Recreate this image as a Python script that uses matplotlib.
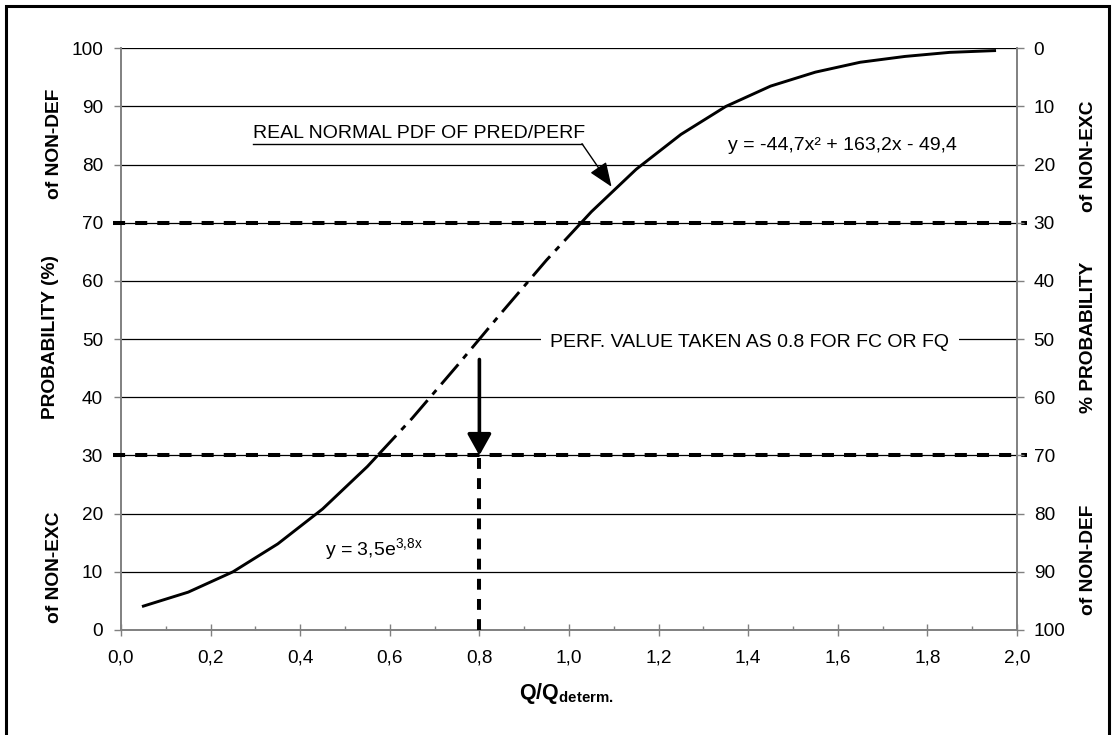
import matplotlib
matplotlib.use('Agg')
import matplotlib.pyplot as plt
from matplotlib.patches import Rectangle

plt.rcParams['font.family'] = ['Liberation Sans', 'DejaVu Sans']
plt.rcParams['mathtext.fontset'] = 'custom'
plt.rcParams['mathtext.rm'] = 'Liberation Sans'
plt.rcParams['mathtext.it'] = 'Liberation Sans'
plt.rcParams['mathtext.bf'] = 'Liberation Sans:bold'
plt.rcParams['mathtext.default'] = 'regular'

# Data
q_ratio = [0.05, 0.15, 0.25, 0.35, 0.45, 0.55, 0.65, 0.75, 0.85, 0.95,
           1.05, 1.15, 1.25, 1.35, 1.45, 1.55, 1.65, 1.75, 1.85, 1.95]
probability = [4.1, 6.5, 10.0, 14.8, 20.8, 28.1, 36.4, 45.4, 54.6, 63.6,
               71.9, 79.2, 85.2, 90.0, 93.5, 95.9, 97.6, 98.6, 99.3, 99.6]

x_ticks = [0.0, 0.2, 0.4, 0.6, 0.8, 1.0, 1.2, 1.4, 1.6, 1.8, 2.0]
x_ticklabels = ['0,0', '0,2', '0,4', '0,6', '0,8', '1,0', '1,2', '1,4', '1,6', '1,8', '2,0']
x_minor = [0.1, 0.3, 0.5, 0.7, 0.9, 1.1, 1.3, 1.5, 1.7, 1.9]
y_ticks = list(range(0, 101, 10))

lower_level = 30      # % probability of non-exceedance
upper_level = 70
perf_value = 0.8

gray = '#808080'
fs = 14

fig = plt.figure(figsize=(11.15, 7.35), dpi=100)
ax = fig.add_axes([0.1085, 0.1429, 0.8036, 0.7914])
ax.set_xlim(0, 2)
ax.set_ylim(0, 100)

# gridlines
ax.set_yticks(y_ticks)
ax.grid(axis='y', color='black', lw=0.9, zorder=0)
ax.set_axisbelow(True)

# curve: solid outside 30..70, dash-dot inside
lo_clip = Rectangle((-1, -10), 5, 10 + lower_level, transform=ax.transData)
hi_clip = Rectangle((-1, upper_level), 5, 50, transform=ax.transData)
mid_clip = Rectangle((-1, lower_level), 5, upper_level - lower_level, transform=ax.transData)

l1, = ax.plot(q_ratio, probability, color='k', lw=2.1, zorder=4)
l1.set_clip_path(lo_clip)
l2, = ax.plot(q_ratio, probability, color='k', lw=2.1, zorder=4)
l2.set_clip_path(hi_clip)
l3, = ax.plot(q_ratio, probability, color='k', lw=2.1, zorder=4,
              dashes=(9, 2.6, 2, 2.6))
l3.set_clip_path(mid_clip)

# dashed levels
for lvl in (lower_level, upper_level):
    ax.axhline(lvl, xmin=-0.009, xmax=1.011, color='k', lw=2.9,
               dashes=(3.0, 2.5), clip_on=False, zorder=3)
ax.vlines(perf_value, 0, lower_level, color='k', lw=2.9,
          linestyles=[(0, (2.7, 2.3))], zorder=3)

# arrow down from the curve to the 30 % level
ax.annotate('', xy=(perf_value, lower_level), xytext=(perf_value, 46.5),
            arrowprops=dict(arrowstyle='-|>,head_length=0.5,head_width=0.28',
                            lw=2.6, color='k', mutation_scale=26,
                            shrinkA=0, shrinkB=0), zorder=5)

# texts
ax.text(1.404, 48.7, 'PERF. VALUE TAKEN AS 0.8 FOR FC OR FQ', fontsize=fs,
        ha='center', va='baseline', zorder=2,
        bbox=dict(boxstyle='square,pad=0.49', fc='white', ec='none'))

ax.text(0.2946, 84.6, 'REAL NORMAL PDF OF PRED/PERF', fontsize=fs,
        ha='left', va='baseline')
ax.plot([0.2946, 1.029], [83.6, 83.6], color='k', lw=1)
ax.annotate('', xy=(1.095, 76.2), xytext=(1.029, 83.6),
            arrowprops=dict(arrowstyle='-|>,head_length=0.75,head_width=0.3',
                            lw=1, color='k', mutation_scale=20,
                            shrinkA=0, shrinkB=0))

ax.text(1.355, 82.5, 'y = -44,7x² + 163,2x - 49,4', fontsize=fs,
        ha='left', va='baseline')
ax.text(0.455, 12.9, r'y = 3,5e$^{3{,}8x}$', fontsize=fs,
        ha='left', va='baseline')

# axes styling
for s in ('top', 'right'):
    ax.spines[s].set_visible(False)
for s in ('left', 'bottom'):
    ax.spines[s].set_color(gray)
    ax.spines[s].set_linewidth(1.4)

ax.set_xticks(x_ticks)
ax.set_xticklabels(x_ticklabels)
ax.set_xticks(x_minor, minor=True)
ax.tick_params(axis='x', which='major', direction='inout', length=8,
               width=1, color=gray, labelsize=13.7, pad=10)
ax.tick_params(axis='x', which='minor', direction='in', length=3,
               width=1, color=gray)
ax.tick_params(axis='y', direction='out', length=5, width=1, color=gray,
               labelsize=13.7, pad=8)

ax2 = ax.twinx()
ax2.set_ylim(100, 0)
ax2.set_yticks(y_ticks)
for s in ('top', 'left', 'bottom'):
    ax2.spines[s].set_visible(False)
ax2.spines['right'].set_color(gray)
ax2.spines['right'].set_linewidth(1.4)
ax2.tick_params(axis='y', direction='out', length=5, width=1, color=gray,
                labelsize=13.7, pad=7)

# axis titles
fig.text(0.5085, 0.057, r'$\mathbf{Q/Q_{determ.}}$', fontsize=15.5,
         ha='center', va='center')
lab = dict(fontsize=13.8, fontweight='bold', rotation=90, ha='center', va='center')
fig.text(0.049, 0.804, 'of NON-DEF', **lab)
fig.text(0.045, 0.5415, 'PROBABILITY (%)', **lab)
fig.text(0.049, 0.2286, 'of NON-EXC', **lab)
fig.text(0.9758, 0.7878, 'of NON-EXC', **lab)
fig.text(0.9758, 0.5415, '% PROBABILITY', **lab)
fig.text(0.9758, 0.238, 'of NON-DEF', **lab)

# outer frame
fig.add_artist(Rectangle((0.0058, -0.02), 0.9884, 1.0112,
                         transform=fig.transFigure, fill=False, lw=2.2, ec='k'))

fig.savefig('out.png', dpi=100)
